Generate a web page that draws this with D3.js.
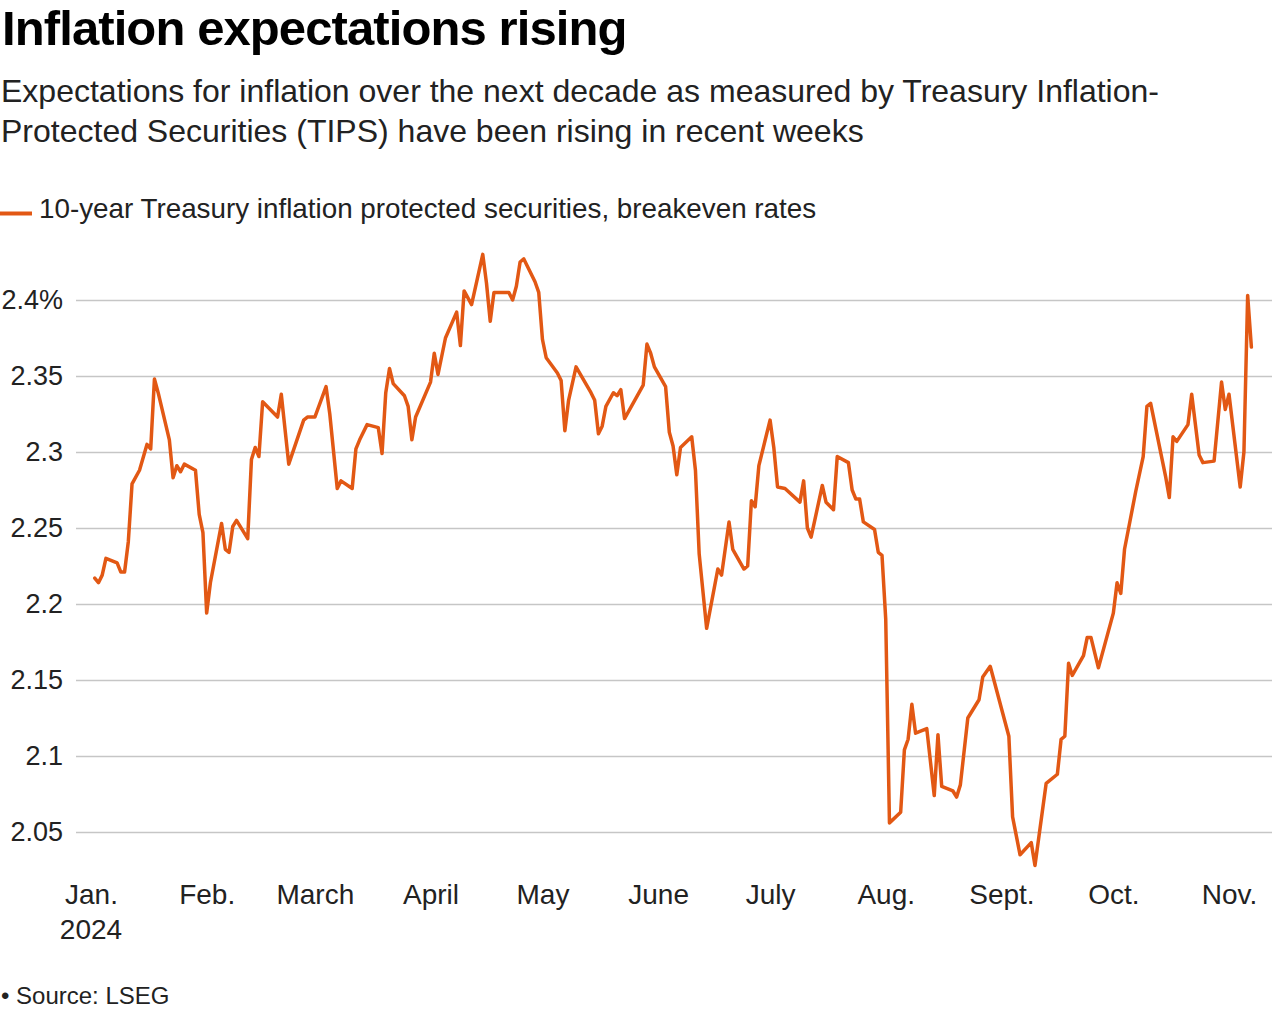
<!DOCTYPE html>
<html>
<head>
<meta charset="utf-8">
<script src="https://cdn.jsdelivr.net/npm/d3@7"></script>
<style>
  body { margin: 0; background: #fff; }
  text { font-family: "Liberation Sans", Arial, Helvetica, sans-serif; }
</style>
</head>
<body>
<div id="chart"></div>
<script>
var dates = [
  "2024-01-02","2024-01-03","2024-01-04","2024-01-05","2024-01-08","2024-01-09","2024-01-10","2024-01-11","2024-01-12","2024-01-14",
  "2024-01-16","2024-01-17","2024-01-18","2024-01-19","2024-01-22","2024-01-23","2024-01-24","2024-01-25","2024-01-26","2024-01-29",
  "2024-01-30","2024-01-31","2024-02-01","2024-02-02","2024-02-05","2024-02-06","2024-02-07","2024-02-08","2024-02-09","2024-02-12",
  "2024-02-13","2024-02-14","2024-02-15","2024-02-16","2024-02-20","2024-02-21","2024-02-23","2024-02-27","2024-02-28","2024-03-01",
  "2024-03-04","2024-03-05","2024-03-07","2024-03-08","2024-03-11","2024-03-12","2024-03-13","2024-03-15","2024-03-18","2024-03-19",
  "2024-03-20","2024-03-21","2024-03-22","2024-03-25","2024-03-26","2024-03-27","2024-03-28","2024-04-01","2024-04-02","2024-04-03",
  "2024-04-05","2024-04-08","2024-04-09","2024-04-10","2024-04-12","2024-04-15","2024-04-16","2024-04-17","2024-04-18","2024-04-22",
  "2024-04-23","2024-04-24","2024-04-25","2024-04-26","2024-04-29","2024-04-30","2024-05-01","2024-05-02","2024-05-05","2024-05-06",
  "2024-05-07","2024-05-08","2024-05-10","2024-05-14","2024-05-15","2024-05-16","2024-05-17","2024-05-18","2024-05-20","2024-05-21",
  "2024-05-22","2024-05-23","2024-05-28","2024-05-29","2024-05-30","2024-05-31","2024-06-03","2024-06-04","2024-06-05","2024-06-06",
  "2024-06-07","2024-06-10","2024-06-11","2024-06-12","2024-06-14","2024-06-17","2024-06-18","2024-06-20","2024-06-21","2024-06-24",
  "2024-06-25","2024-06-26","2024-06-27","2024-06-28","2024-07-01","2024-07-02","2024-07-03","2024-07-05","2024-07-09","2024-07-10",
  "2024-07-11","2024-07-12","2024-07-15","2024-07-16","2024-07-18","2024-07-19","2024-07-22","2024-07-23","2024-07-24","2024-07-25",
  "2024-07-26","2024-07-29","2024-07-30","2024-07-31","2024-08-01","2024-08-02","2024-08-05","2024-08-06","2024-08-07","2024-08-08",
  "2024-08-09","2024-08-12","2024-08-14","2024-08-15","2024-08-16","2024-08-19","2024-08-20","2024-08-21","2024-08-23","2024-08-26",
  "2024-08-27","2024-08-29","2024-09-03","2024-09-04","2024-09-06","2024-09-09","2024-09-10","2024-09-13","2024-09-16","2024-09-17",
  "2024-09-18","2024-09-19","2024-09-20","2024-09-23","2024-09-24","2024-09-25","2024-09-27","2024-10-01","2024-10-02","2024-10-03",
  "2024-10-04","2024-10-07","2024-10-09","2024-10-10","2024-10-11","2024-10-15","2024-10-16","2024-10-17","2024-10-18","2024-10-21",
  "2024-10-22","2024-10-24","2024-10-25","2024-10-28","2024-10-30","2024-10-31","2024-11-01","2024-11-04","2024-11-05","2024-11-06",
  "2024-11-07"
];

var breakeven = [
  2.217,2.214,2.219,2.230,2.227,2.221,2.221,2.241,2.279,2.288,
  2.305,2.302,2.348,2.339,2.308,2.283,2.291,2.287,2.292,2.288,
  2.259,2.247,2.194,2.214,2.253,2.236,2.234,2.251,2.255,2.243,
  2.295,2.303,2.297,2.333,2.323,2.338,2.292,2.321,2.323,2.323,
  2.343,2.325,2.276,2.281,2.276,2.302,2.308,2.318,2.316,2.299,
  2.339,2.355,2.345,2.337,2.330,2.308,2.323,2.346,2.365,2.351,
  2.375,2.392,2.370,2.406,2.397,2.430,2.411,2.386,2.405,2.405,
  2.400,2.409,2.425,2.427,2.412,2.405,2.374,2.362,2.352,2.347,
  2.314,2.334,2.356,2.339,2.334,2.312,2.317,2.330,2.339,2.337,
  2.341,2.322,2.344,2.371,2.365,2.356,2.343,2.313,2.304,2.285,
  2.303,2.310,2.288,2.233,2.184,2.223,2.219,2.254,2.236,2.223,
  2.225,2.268,2.264,2.291,2.321,2.303,2.277,2.276,2.267,2.281,
  2.250,2.244,2.278,2.267,2.262,2.297,2.293,2.275,2.269,2.269,
  2.254,2.249,2.234,2.232,2.190,2.056,2.063,2.104,2.111,2.134,
  2.115,2.118,2.074,2.114,2.080,2.077,2.073,2.081,2.125,2.137,
  2.152,2.159,2.113,2.060,2.035,2.043,2.028,2.082,2.088,2.111,
  2.113,2.161,2.153,2.166,2.178,2.178,2.158,2.194,2.214,2.207,
  2.236,2.274,2.297,2.330,2.332,2.284,2.270,2.310,2.307,2.318,
  2.338,2.298,2.293,2.294,2.346,2.328,2.338,2.277,2.300,2.403,
  2.369
];

var yTicks = [2.05, 2.1, 2.15, 2.2, 2.25, 2.3, 2.35, 2.4];
var yTickLabels = ["2.05", "2.1", "2.15", "2.2", "2.25", "2.3", "2.35", "2.4%"];
var monthTicks = ["2024-01-01","2024-02-01","2024-03-01","2024-04-01","2024-05-01","2024-06-01",
                  "2024-07-01","2024-08-01","2024-09-01","2024-10-01","2024-11-01"];
var monthLabels = ["Jan.","Feb.","March","April","May","June","July","Aug.","Sept.","Oct.","Nov."];

var title = "Inflation expectations rising";
var subtitle = ["Expectations for inflation over the next decade as measured by Treasury Inflation-",
                "Protected Securities (TIPS) have been rising in recent weeks"];
var legendLabel = "10-year Treasury inflation protected securities, breakeven rates";
var source = "\u2022 Source: LSEG";

var width = 1272, height = 1014;
var lineColor = "#e25814";
var parse = d3.timeParse("%Y-%m-%d");

var data = dates.map(function (d, i) {
  return { date: parse(d), value: breakeven[i] };
});

var svg = d3.select("#chart").append("svg")
  .attr("width", width)
  .attr("height", height);

var x = d3.scaleTime()
  .domain([parse(monthTicks[0]), parse(monthTicks[monthTicks.length - 1])])
  .range([91, 1229]);

var y = d3.scaleLinear()
  .domain([2.05, 2.4])
  .range([832, 300]);

// header
svg.append("text")
  .attr("x", 2)
  .attr("y", 45)
  .style("font-size", "49px")
  .style("font-weight", "bold")
  .style("letter-spacing", "-0.9px")
  .style("fill", "#000")
  .text(title);

svg.selectAll(".subtitle")
  .data(subtitle)
  .enter().append("text")
  .attr("class", "subtitle")
  .attr("x", 1)
  .attr("y", function (d, i) { return 102 + i * 40; })
  .style("font-size", "32px")
  .style("fill", "#222")
  .text(function (d) { return d; });

// legend
svg.append("line")
  .attr("x1", 0).attr("x2", 32)
  .attr("y1", 213.5).attr("y2", 213.5)
  .style("stroke", lineColor)
  .style("stroke-width", 4);

svg.append("text")
  .attr("x", 39)
  .attr("y", 218)
  .style("font-size", "27.8px")
  .style("fill", "#222")
  .text(legendLabel);

// grid + y axis
var yAxis = d3.axisLeft(y)
  .tickValues(yTicks)
  .tickSize(-(width - 76))
  .tickPadding(13)
  .tickFormat(function (d, i) { return yTickLabels[i]; });

var gy = svg.append("g")
  .attr("transform", "translate(76,0)")
  .call(yAxis);

gy.select(".domain").remove();
gy.selectAll(".tick line")
  .style("stroke", "#c6c6c6")
  .style("stroke-width", 1.6);
gy.selectAll(".tick text")
  .style("font-size", "27px")
  .style("font-family", "'Liberation Sans', Arial, sans-serif")
  .style("fill", "#222");

// x axis
var xAxis = d3.axisBottom(x)
  .tickValues(monthTicks.map(parse))
  .tickSize(0)
  .tickPadding(0)
  .tickFormat(function (d, i) { return monthLabels[i]; });

var gx = svg.append("g")
  .attr("transform", "translate(0,884)")
  .call(xAxis);

gx.select(".domain").remove();
gx.selectAll(".tick text")
  .attr("dy", "0.71em")
  .style("font-size", "28px")
  .style("font-family", "'Liberation Sans', Arial, sans-serif")
  .style("fill", "#222");

svg.append("text")
  .attr("x", x(parse(monthTicks[0])))
  .attr("y", 939)
  .attr("text-anchor", "middle")
  .style("font-size", "28px")
  .style("fill", "#222")
  .text("2024");

// series
var line = d3.line()
  .x(function (d) { return x(d.date); })
  .y(function (d) { return y(d.value); });

svg.append("path")
  .datum(data)
  .attr("d", line)
  .style("fill", "none")
  .style("stroke", lineColor)
  .style("stroke-width", 3.5)
  .style("stroke-linejoin", "round")
  .style("stroke-linecap", "round");

// footer
svg.append("text")
  .attr("x", 1)
  .attr("y", 1004)
  .style("font-size", "24px")
  .style("fill", "#222")
  .text(source);
</script>
</body>
</html>
